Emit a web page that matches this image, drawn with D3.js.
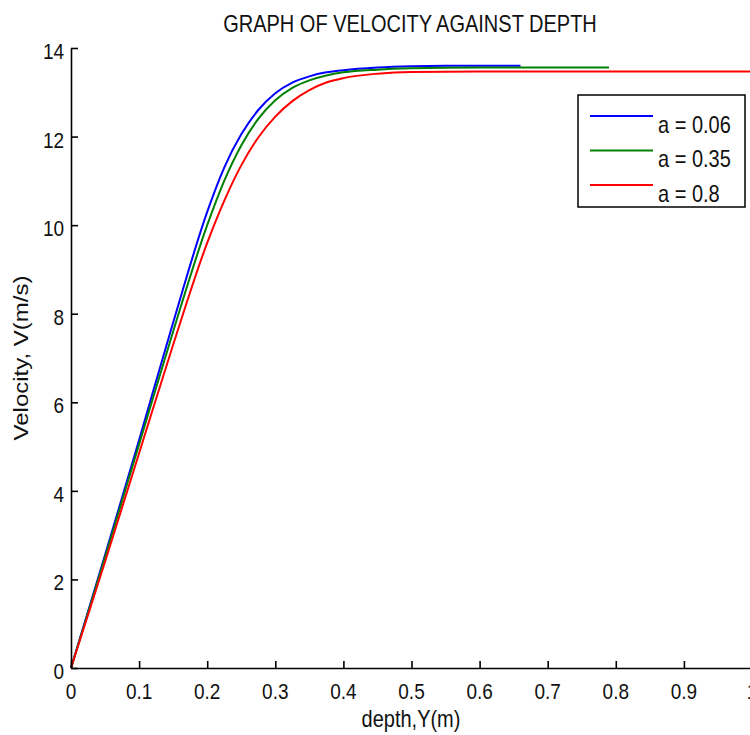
<!DOCTYPE html>
<html>
<head>
<meta charset="utf-8">
<script src="https://cdn.jsdelivr.net/npm/d3@7"></script>
<style>
  html, body { margin: 0; padding: 0; background: #fff; }
  svg { display: block; }
  text { font-family: "Liberation Sans", Arial, sans-serif; fill: #111; }
</style>
</head>
<body>
<svg width="750" height="735"></svg>
<script>
// values
var xTicks = [0, 0.1, 0.2, 0.3, 0.4, 0.5, 0.6, 0.7, 0.8, 0.9, 1];
var xTickLabels = ["0", "0.1", "0.2", "0.3", "0.4", "0.5", "0.6", "0.7", "0.8", "0.9", "1"];
var yTicks = [0, 2, 4, 6, 8, 10, 12, 14];

var seriesNames = ["a = 0.06", "a = 0.35", "a = 0.8"];
var seriesColors = ["#0000ff", "#008000", "#ff0000"];

var depthBlue = [0, 0.05, 0.1, 0.15, 0.2, 0.225, 0.25, 0.275, 0.3, 0.325, 0.35, 0.375, 0.4, 0.45, 0.5, 0.55, 0.66];
var velBlue   = [0, 2.55, 5.15, 7.8, 10.3, 11.3, 12.05, 12.6, 12.98, 13.22, 13.36, 13.45, 13.5, 13.56, 13.59, 13.6, 13.6];

var depthGreen = [0, 0.05, 0.1, 0.15, 0.2, 0.225, 0.25, 0.275, 0.3, 0.325, 0.35, 0.375, 0.4, 0.45, 0.5, 0.6, 0.79];
var velGreen   = [0, 2.5, 5.05, 7.6, 10.0, 11.0, 11.8, 12.4, 12.82, 13.1, 13.27, 13.38, 13.45, 13.51, 13.54, 13.56, 13.56];

var depthRed = [0, 0.05, 0.1, 0.15, 0.2, 0.225, 0.25, 0.275, 0.3, 0.325, 0.35, 0.375, 0.4, 0.45, 0.5, 0.6, 0.8, 1.0];
var velRed   = [0, 2.4, 4.85, 7.3, 9.6, 10.55, 11.35, 11.98, 12.45, 12.8, 13.05, 13.22, 13.32, 13.42, 13.46, 13.47, 13.47, 13.47];

var series = [
  { name: seriesNames[0], color: seriesColors[0], pts: d3.zip(depthBlue, velBlue) },
  { name: seriesNames[1], color: seriesColors[1], pts: d3.zip(depthGreen, velGreen) },
  { name: seriesNames[2], color: seriesColors[2], pts: d3.zip(depthRed, velRed) }
];

var svg = d3.select("svg");

var x = d3.scaleLinear().domain([0, 1]).range([71, 752]);
var y = d3.scaleLinear().domain([0, 14]).range([668, 48]);

// text is slightly stretched vertically in the original
function label(sel, tx, ty, str, anchor, size, rot) {
  return sel.append("text")
    .attr("transform", "translate(" + tx + "," + ty + ") scale(1,1.2)" + (rot ? " rotate(" + rot + ")" : ""))
    .attr("text-anchor", anchor)
    .style("font-size", size + "px")
    .text(str);
}

// curves
var line = d3.line()
  .x(function (d) { return x(d[0]); })
  .y(function (d) { return y(d[1]); })
  .curve(d3.curveMonotoneX);

svg.append("g")
  .selectAll("path")
  .data(series)
  .enter().append("path")
  .attr("fill", "none")
  .attr("stroke", function (d) { return d.color; })
  .attr("stroke-width", 2)
  .attr("d", function (d) { return line(d.pts); });

// axes
svg.append("g")
  .attr("transform", "translate(0," + y(0) + ")")
  .call(d3.axisBottom(x).tickValues(xTicks).tickSizeInner(-7).tickSizeOuter(0).tickFormat(""));

svg.append("g")
  .attr("transform", "translate(" + x(0) + ",0)")
  .call(d3.axisLeft(y).tickValues(yTicks).tickSizeInner(-7).tickSizeOuter(0).tickFormat(""));

svg.selectAll(".domain, .tick line")
  .attr("stroke", "#000")
  .attr("stroke-width", 1.6);

xTicks.forEach(function (t, i) {
  label(svg, x(t), 699, xTickLabels[i], "middle", 19);
});
yTicks.forEach(function (t) {
  label(svg, 64, y(t) + 11, String(t), "end", 19);
});

// titles
label(svg, 410, 32, "GRAPH OF VELOCITY AGAINST DEPTH", "middle", 20);
label(svg, 411, 727, "depth,Y(m)", "middle", 20);
label(svg, 28, 358, "Velocity, V(m/s)", "middle", 20, -90);

// legend
var legend = svg.append("g");
legend.append("rect")
  .attr("x", 578)
  .attr("y", 95)
  .attr("width", 167)
  .attr("height", 112)
  .attr("fill", "#fff")
  .attr("stroke", "#000")
  .attr("stroke-width", 1.5);

series.forEach(function (s, i) {
  var ly = 116 + i * 34.5;
  legend.append("line")
    .attr("x1", 590).attr("x2", 653)
    .attr("y1", ly).attr("y2", ly)
    .attr("stroke", s.color)
    .attr("stroke-width", 2);
  label(legend, 658, ly + 16.5, s.name, "start", 20);
});
</script>
</body>
</html>
